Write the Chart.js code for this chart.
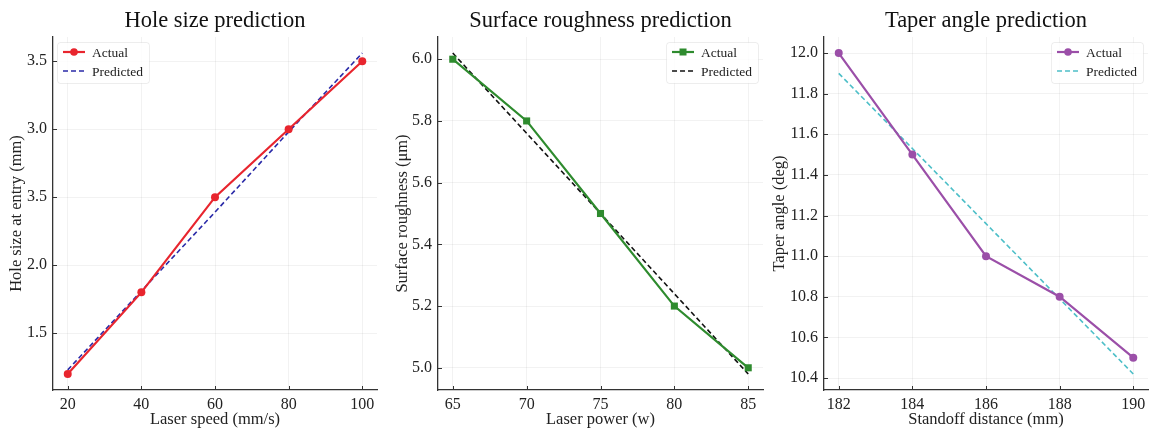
<!DOCTYPE html>
<html>
<head>
    <meta charset="UTF-8">
    <title>Prediction charts</title>
    <script src="https://cdn.jsdelivr.net/npm/chart.js"></script>
    <style>
        html, body { margin: 0; padding: 0; background: #fff; overflow: hidden; }
        .box { position: absolute; top: 0; width: 385px; height: 430px; }
    </style>
</head>
<body>
<div class="box" style="left:0"><canvas id="holeChart" width="385" height="430"></canvas></div>
<div class="box" style="left:385px"><canvas id="roughChart" width="385" height="430"></canvas></div>
<div class="box" style="left:770px"><canvas id="taperChart" width="385" height="430"></canvas></div>

<script>
    // Hole size
    const holeSpeed = [20, 40, 60, 80, 100];
    const holeActual = [1.2, 1.8, 2.5, 3.0, 3.5];
    const holePredicted = [1.23, 1.81, 2.39, 2.98, 3.56];
    const holeYTicks = [1.5, 2.0, 2.5, 3.0, 3.5];
    const holeYLabels = ['1.5', '2.0', '3.5', '3.0', '3.5']; // as printed in the original

    // Surface roughness
    const roughPower = [65, 70, 75, 80, 85];
    const roughActual = [6.0, 5.8, 5.5, 5.2, 5.0];
    const roughPredicted = [6.02, 5.76, 5.5, 5.24, 4.98];
    const roughYTicks = [5.0, 5.2, 5.4, 5.6, 5.8, 6.0];

    // Taper angle
    const taperDist = [182, 184, 186, 188, 190];
    const taperActual = [12.0, 11.5, 11.0, 10.8, 10.5];
    const taperPredicted = [11.9, 11.53, 11.16, 10.79, 10.42];
    const taperYTicks = [10.4, 10.6, 10.8, 11.0, 11.2, 11.4, 11.6, 11.8, 12.0];

    Chart.defaults.font.family = '"Liberation Serif", "Times New Roman", serif';
    Chart.defaults.color = '#222';

    // short tick marks pointing into the plot
    const innerTicks = {
        id: 'innerTicks',
        afterDraw(chart) {
            const ctx = chart.ctx, a = chart.chartArea;
            ctx.save();
            ctx.strokeStyle = '#333';
            ctx.lineWidth = 1;
            chart.scales.x.ticks.forEach(t => {
                const px = Math.round(chart.scales.x.getPixelForValue(t.value)) + 0.5;
                ctx.beginPath(); ctx.moveTo(px, a.bottom); ctx.lineTo(px, a.bottom - 4); ctx.stroke();
            });
            chart.scales.y.ticks.forEach(t => {
                const py = Math.round(chart.scales.y.getPixelForValue(t.value)) + 0.5;
                ctx.beginPath(); ctx.moveTo(a.left, py); ctx.lineTo(a.left + 4, py); ctx.stroke();
            });
            ctx.restore();
        }
    };

    // legend drawn inside the plot area
    const insideLegend = {
        id: 'insideLegend',
        afterDatasetsDraw(chart, args, opts) {
            const ctx = chart.ctx, a = chart.chartArea;
            const items = chart.data.datasets;
            ctx.save();
            ctx.font = '13.5px "Liberation Serif", serif';
            const textW = Math.max(...items.map(d => ctx.measureText(d.label).width));
            const lineLen = 22, gap = 7, padX = 6, rowH = 19;
            const boxW = padX + lineLen + gap + textW + padX;
            const boxH = items.length * rowH + 3;
            const x0 = opts.align === 'right' ? a.right - 5 - boxW : a.left + 4;
            const y0 = a.top + 5;

            ctx.fillStyle = 'rgba(255,255,255,0.8)';
            ctx.strokeStyle = 'rgba(0,0,0,0.07)';
            ctx.lineWidth = 1;
            ctx.beginPath();
            ctx.roundRect(x0 + 0.5, y0 + 0.5, boxW, boxH, 3);
            ctx.fill(); ctx.stroke();

            items.forEach((d, i) => {
                const cy = y0 + 10 + i * rowH;
                const lx = x0 + padX;
                ctx.strokeStyle = d.borderColor;
                ctx.lineWidth = d.borderWidth;
                ctx.setLineDash(d.borderDash || []);
                ctx.beginPath(); ctx.moveTo(lx, cy); ctx.lineTo(lx + lineLen, cy); ctx.stroke();
                ctx.setLineDash([]);
                if (d.pointRadius > 0) {
                    const cx = lx + lineLen / 2;
                    ctx.fillStyle = d.borderColor;
                    ctx.beginPath();
                    if (d.pointStyle === 'rect') {
                        ctx.rect(cx - 3.5, cy - 3.5, 7, 7);
                    } else {
                        ctx.arc(cx, cy, 3.8, 0, Math.PI * 2);
                    }
                    ctx.fill();
                }
                ctx.fillStyle = '#222';
                ctx.textBaseline = 'middle';
                ctx.textAlign = 'left';
                ctx.fillText(d.label, lx + lineLen + gap, cy + 1);
            });
            ctx.restore();
        }
    };

    function makeChart(id, cfg) {
        const toPoints = (xs, ys) => xs.map((x, i) => ({ x: x, y: ys[i] }));
        return new Chart(document.getElementById(id), {
            type: 'line',
            data: {
                datasets: [{
                    label: 'Actual',
                    data: toPoints(cfg.xs, cfg.actual),
                    borderColor: cfg.color,
                    backgroundColor: cfg.color,
                    borderWidth: 2.2,
                    pointStyle: cfg.pointStyle,
                    pointRadius: cfg.pointStyle === 'rect' ? 5 : 4,
                    pointBorderWidth: 0,
                    tension: 0
                }, {
                    label: 'Predicted',
                    data: toPoints(cfg.xs, cfg.predicted),
                    borderColor: cfg.predColor,
                    borderWidth: 1.6,
                    borderDash: [5, 3],
                    pointRadius: 0,
                    tension: 0
                }]
            },
            options: {
                responsive: false,
                animation: false,
                layout: { padding: { left: 0, right: cfg.padRight, top: 0, bottom: 0 } },
                plugins: {
                    legend: { display: false },
                    tooltip: { enabled: false },
                    title: {
                        display: true,
                        text: cfg.title,
                        fullSize: false,
                        color: '#111',
                        font: { size: 22.5, weight: 'normal' },
                        padding: { top: 8, bottom: 2 }
                    },
                    insideLegend: { align: cfg.legendAlign }
                },
                scales: {
                    x: {
                        type: 'linear',
                        min: cfg.xMin,
                        max: cfg.xMax,
                        afterBuildTicks: s => { s.ticks = cfg.xs.map(v => ({ value: v })); },
                        afterFit: s => { s.height = 40; },
                        grid: { color: 'rgba(0,0,0,0.05)', drawTicks: false },
                        border: { display: true, color: '#333', width: 1.3 },
                        ticks: { padding: 5, font: { size: 16 }, color: '#222' },
                        title: {
                            display: true,
                            text: cfg.xTitle,
                            font: { size: 16.5 },
                            color: '#222',
                            padding: { top: 0, bottom: 0 }
                        }
                    },
                    y: {
                        type: 'linear',
                        min: cfg.yMin,
                        max: cfg.yMax,
                        afterBuildTicks: s => { s.ticks = cfg.yTicks.map(v => ({ value: v })); },
                        afterFit: s => { s.width = cfg.yWidth; },
                        grid: { color: 'rgba(0,0,0,0.05)', drawTicks: false },
                        border: { display: true, color: '#333', width: 1.3 },
                        ticks: {
                            padding: 6,
                            font: { size: 16 },
                            color: '#222',
                            callback: (v) => {
                                const i = cfg.yTicks.findIndex(t => Math.abs(t - v) < 1e-6);
                                return cfg.yLabels ? cfg.yLabels[i] : v.toFixed(1);
                            }
                        },
                        title: {
                            display: true,
                            text: cfg.yTitle,
                            font: { size: 16.5 },
                            color: '#222',
                            padding: { top: cfg.yTitlePad, bottom: 0 }
                        }
                    }
                }
            },
            plugins: [innerTicks, insideLegend]
        });
    }

    makeChart('holeChart', {
        title: 'Hole size prediction',
        xs: holeSpeed, actual: holeActual, predicted: holePredicted,
        color: '#e8252e', predColor: '#2a2aa8', pointStyle: 'circle',
        xMin: 16, xMax: 104, yMin: 1.082, yMax: 3.678,
        yTicks: holeYTicks, yLabels: holeYLabels,
        xTitle: 'Laser speed (mm/s)', yTitle: 'Hole size at entry (mm)',
        yWidth: 53, yTitlePad: 7, padRight: 8, legendAlign: 'left'
    });

    makeChart('roughChart', {
        title: 'Surface roughness prediction',
        xs: roughPower, actual: roughActual, predicted: roughPredicted,
        color: '#2e8b2e', predColor: '#111111', pointStyle: 'rect',
        xMin: 64, xMax: 86, yMin: 4.928, yMax: 6.072,
        yTicks: roughYTicks,
        xTitle: 'Laser power (w)', yTitle: 'Surface roughness (\u03bcm)',
        yWidth: 53, yTitlePad: 8, padRight: 7, legendAlign: 'right'
    });

    makeChart('taperChart', {
        title: 'Taper angle prediction',
        xs: taperDist, actual: taperActual, predicted: taperPredicted,
        color: '#9b4fa8', predColor: '#4dbfc8', pointStyle: 'circle',
        xMin: 181.6, xMax: 190.4, yMin: 10.341, yMax: 12.079,
        yTicks: taperYTicks,
        xTitle: 'Standoff distance (mm)', yTitle: 'Taper angle (deg)',
        yWidth: 54, yTitlePad: 0, padRight: 7, legendAlign: 'right'
    });
</script>
</body>
</html>
